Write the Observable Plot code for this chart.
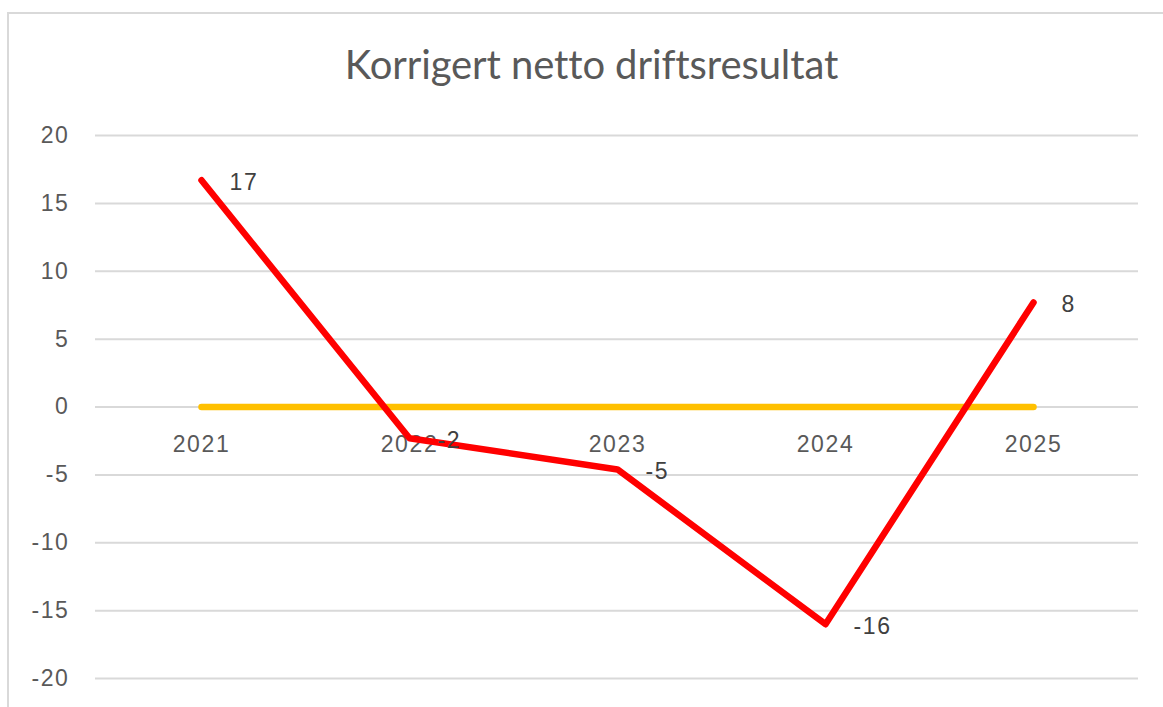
<!DOCTYPE html>
<html>
<head>
<meta charset="utf-8">
<script src="https://cdn.jsdelivr.net/npm/d3@7"></script>
<script src="https://cdn.jsdelivr.net/npm/@observablehq/plot@0.6"></script>
<style>
  html, body { margin: 0; padding: 0; background: #fff; }
  #wrap { position: relative; width: 1163px; height: 707px; overflow: hidden; }
  #frame { position: absolute; left: 7px; top: 12px; width: 1200px; height: 800px;
           border-left: 2px solid #d9d9d9; border-top: 2px solid #d9d9d9; }
  #title { position: absolute; left: 0; width: 1183px; top: 40px; text-align: center;
           font-family: Lato, "Open Sans", sans-serif; font-size: 40px; color: #595959;
           line-height: 48px; letter-spacing: -0.1px; }
  #chart { position: absolute; left: 0; top: 0; }
  #chart text { letter-spacing: 1.6px; }
</style>
</head>
<body>
<div id="wrap">
  <div id="frame"></div>
  <div id="chart"></div>
  <div id="title">Korrigert netto driftsresultat</div>
</div>
<script>
const years = ["2021", "2022", "2023", "2024", "2025"];
const values = [16.7, -2.3, -4.6, -16.0, 7.7];
const labels = ["17", "-2", "-5", "-16", "8"];
const reference = [0, 0, 0, 0, 0];
const yTicks = [-20, -15, -10, -5, 0, 5, 10, 15, 20];

const rows = years.map((y, i) => ({year: y, value: values[i], label: labels[i], ref: reference[i]}));

const chart = Plot.plot({
  width: 1163,
  height: 707,
  marginTop: 135,
  marginBottom: 29,
  marginLeft: 95,
  marginRight: 25,
  style: {background: "transparent", fontFamily: "'Liberation Sans', Arial, sans-serif"},
  x: {type: "point", domain: years, padding: 0.5, axis: null},
  y: {domain: [-20, 20], axis: null},
  marks: [
    Plot.ruleY(yTicks, {stroke: "#d9d9d9", strokeWidth: 2}),
    Plot.axisY({ticks: yTicks, tickSize: 0, tickPadding: 26, tickFormat: d => String(d),
                fontSize: 23, fill: "#595959", anchor: "left"}),
    Plot.text(rows, {x: "year", y: "ref", text: "year", dy: 38, fontSize: 23, fill: "#595959"}),
    Plot.line(rows, {x: "year", y: "ref", stroke: "#FFC000", strokeWidth: 6.5, strokeLinecap: "round"}),
    Plot.line(rows, {x: "year", y: "value", stroke: "#FF0000", strokeWidth: 6.5,
                     strokeLinecap: "round", strokeLinejoin: "round"}),
    Plot.text(rows, {x: "year", y: "value", text: "label", dx: 28, dy: 2, textAnchor: "start",
                     fontSize: 23, fill: "#404040"})
  ]
});
document.getElementById("chart").appendChild(chart);
</script>
</body>
</html>
